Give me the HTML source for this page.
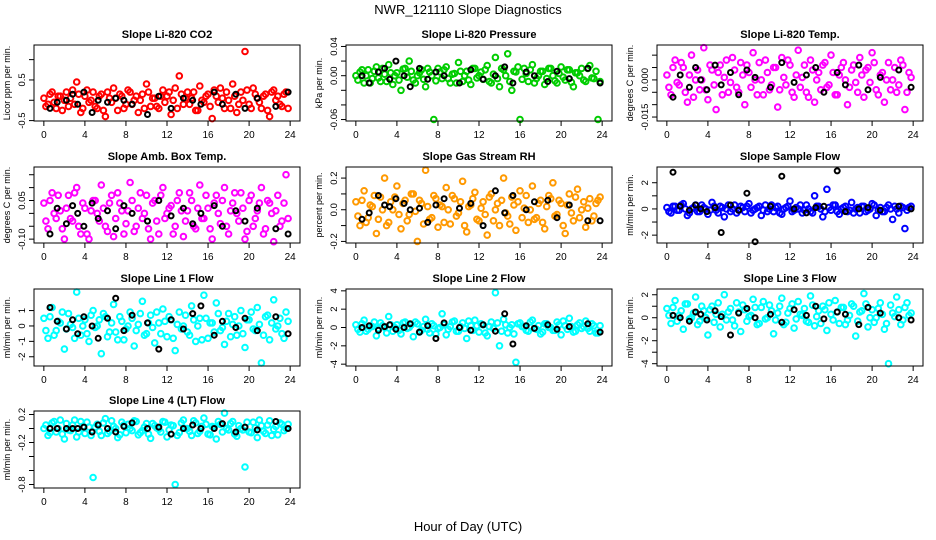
<!DOCTYPE html>
<html><head><meta charset="utf-8">
<style>
html,body{margin:0;padding:0;background:#fff;}
svg{display:block;font-family:"Liberation Sans",sans-serif;}
</style></head>
<body>
<svg id="chart" width="936" height="540" viewBox="0 0 936 540" xmlns="http://www.w3.org/2000/svg">
<text x="468" y="14" text-anchor="middle" font-size="13">NWR_121110  Slope Diagnostics</text>
<text x="468" y="531" text-anchor="middle" font-size="13">Hour of Day (UTC)</text>
</svg>
<script>
const hours = [0,0.4,0.8,1.2,1.6,2,2.4,2.8,3.2,3.6,4,4.4,4.8,5.2,5.6,6,6.4,6.8,7.2,7.6,8,8.4,8.8,9.2,9.6,10,10.4,10.8,11.2,11.6,12,12.4,12.8,13.2,13.6,14,14.4,14.8,15.2,15.6,16,16.4,16.8,17.2,17.6,18,18.4,18.8,19.2,19.6,20,20.4,20.8,21.2,21.6,22,22.4,22.8,23.2,23.6];
const hours2 = [0.2,0.6,1,1.4,1.8,2.2,2.6,3,3.4,3.8,4.2,4.6,5,5.4,5.8,6.2,6.6,7,7.4,7.8,8.2,8.6,9,9.4,9.8,10.2,10.6,11,11.4,11.8,12.2,12.6,13,13.4,13.8,14.2,14.6,15,15.4,15.8,16.2,16.6,17,17.4,17.8,18.2,18.6,19,19.4,19.8,20.2,20.6,21,21.4,21.8,22.2,22.6,23,23.4,23.8];
const blackHours = [0.6,1.3,2.2,2.8,3.3,3.9,4.7,5.3,6.2,7.0,7.8,8.6,10.1,11.2,12.4,13.6,14.5,15.3,16.6,17.4,18.7,19.6,20.8,22.6,23.8];
const xTicks = [0,4,8,12,16,20,24];

const co2Vals = [0.05,-0.1,0.2,-0.2,0.1,0.0,-0.15,0.25,0.45,-0.3,0.1,-0.05,0.2,-0.2,0.15,-0.4,0.05,0.3,-0.25,0.1,-0.1,0.2,0.0,-0.3,0.15,0.4,-0.15,0.05,-0.2,0.25,0.1,-0.35,0.3,0.6,-0.1,0.2,0.05,-0.25,0.35,-0.05,0.15,-0.45,0.1,0.3,-0.2,0.0,0.4,-0.3,0.2,1.2,-0.1,0.3,0.05,-0.2,0.15,-0.4,0.25,0.1,-0.15,0.2];
const co2Vals2 = [-0.15,0.15,-0.05,0.1,-0.25,0.2,0.05,-0.1,0.15,-0.2,0.25,0.0,-0.15,0.1,-0.25,0.2,-0.05,0.05,0.15,-0.2,0.25,-0.1,0.1,0.0,-0.2,0.2,0.05,-0.15,0.1,-0.05,0.2,0.0,-0.2,0.15,0.05,-0.1,0.2,-0.25,0.0,0.1,-0.15,0.25,-0.05,0.05,0.2,-0.2,0.1,-0.1,0.0,0.25,-0.2,0.15,-0.05,0.1,-0.25,0.2,0.0,-0.1,0.15,-0.2];
const co2Black = [-0.2,-0.05,0.0,0.15,-0.1,0.2,-0.3,0.0,-0.05,0.05,0.0,-0.1,-0.35,0.1,-0.2,0.05,0.0,-0.1,0.2,-0.1,0.15,-0.2,0.05,-0.15,0.2];
const presVals = [0.0,0.005,-0.01,0.008,-0.004,0.012,-0.008,0.002,0.015,-0.012,0.004,-0.02,0.01,0.02,-0.006,0.0,0.008,-0.015,0.005,-0.06,0.01,-0.004,0.012,-0.01,0.003,0.018,-0.008,0.006,-0.012,0.01,0.0,-0.005,0.014,-0.01,0.025,-0.015,0.008,0.03,-0.02,0.005,-0.06,0.01,-0.008,0.015,-0.004,0.006,-0.012,0.01,0.0,-0.01,0.012,-0.006,0.008,-0.015,0.004,0.01,-0.008,0.014,-0.004,-0.06];
const presVals2 = [-0.006,0.008,0.0,-0.01,0.006,-0.003,0.01,-0.008,0.004,0.0,-0.006,0.009,-0.002,0.006,-0.01,0.004,-0.005,0.01,0.0,-0.007,0.005,0.008,-0.004,0.002,-0.01,0.006,0.0,-0.006,0.01,-0.003,0.005,0.008,-0.008,0.002,-0.004,0.01,0.0,-0.008,0.006,0.012,-0.005,0.003,0.008,-0.01,0.0,0.006,-0.004,0.01,-0.007,0.003,-0.002,0.008,-0.009,0.004,0.0,-0.006,0.01,-0.003,0.006,-0.008];
const presBlack = [0.0,-0.01,0.005,0.01,-0.005,0.02,0.0,-0.015,0.01,-0.005,0.005,0.0,-0.01,0.008,-0.005,0.0,0.012,-0.01,0.005,0.0,-0.008,0.006,-0.004,0.01,-0.01];
const tempVals = [0.002,-0.006,0.008,-0.002,0.005,-0.009,0.01,0.0,-0.004,0.013,-0.008,0.004,-0.012,0.006,0.001,-0.005,0.009,-0.003,0.007,-0.01,0.003,0.011,-0.006,0.0,0.008,-0.004,0.005,-0.011,0.009,-0.002,0.006,-0.007,0.012,0.001,-0.005,0.008,-0.009,0.003,0.006,-0.003,0.01,-0.006,0.002,0.007,-0.01,0.004,-0.001,0.009,-0.007,0.005,0.011,-0.004,0.002,-0.009,0.007,0.0,-0.005,0.008,-0.012,0.003];
const tempVals2 = [-0.003,0.005,-0.001,0.007,-0.005,0.002,-0.007,0.004,0.0,-0.004,0.006,-0.002,0.003,-0.006,0.008,-0.001,0.004,-0.005,0.002,0.006,-0.003,0.0,0.007,-0.006,0.003,-0.002,0.005,-0.004,0.001,0.008,-0.005,0.002,-0.003,0.006,-0.007,0.004,0.0,-0.004,0.007,-0.002,0.003,-0.006,0.005,0.0,-0.003,0.006,-0.005,0.002,0.004,-0.001,0.007,-0.006,0.003,0.0,-0.004,0.005,-0.002,0.006,-0.005,0.001];
const tempBlack = [-0.007,0.002,-0.003,0.005,0.0,-0.004,0.006,-0.002,0.003,-0.006,0.004,0.001,-0.003,0.007,-0.001,0.002,0.005,-0.005,0.003,-0.002,0.006,-0.004,0.001,0.004,-0.003];
const ambVals = [0.04,-0.06,0.08,-0.02,0.01,-0.1,0.07,-0.03,0.1,-0.08,0.02,-0.1,0.05,0.0,0.11,-0.05,0.04,-0.09,0.08,0.01,-0.04,0.12,-0.07,0.02,-0.02,0.07,-0.1,0.05,-0.08,0.1,0.0,0.03,-0.05,0.08,-0.09,0.01,0.05,-0.06,0.11,-0.02,0.02,-0.1,0.07,-0.04,0.1,-0.08,0.04,0.0,0.08,-0.1,0.05,-0.05,0.01,0.1,-0.06,0.04,-0.11,0.07,-0.03,0.15];
const ambVals2 = [-0.03,0.05,0.0,0.07,-0.06,0.02,-0.02,0.08,-0.05,0.04,-0.08,0.01,0.05,-0.03,0.02,-0.07,0.07,-0.02,0.04,-0.08,0.01,0.05,-0.05,0.08,0.0,-0.06,0.04,-0.03,0.07,-0.02,0.02,-0.08,0.05,0.01,-0.03,0.08,-0.05,0.02,-0.02,0.07,-0.06,0.04,0.0,0.05,-0.05,0.01,0.08,-0.03,0.02,-0.07,0.07,-0.02,0.04,-0.08,0.05,0.0,0.01,-0.05,0.04,-0.02];
const ambBlack = [-0.08,0.02,-0.04,0.03,0.0,-0.05,0.04,-0.02,0.01,-0.06,0.03,0.0,-0.03,0.05,-0.01,0.02,-0.04,0.0,0.03,-0.05,0.01,-0.03,0.02,-0.06,-0.08];
const rhVals = [0.05,-0.1,0.12,-0.05,0.02,-0.15,0.08,0.2,-0.08,0.0,0.15,-0.12,0.06,-0.03,0.1,-0.2,0.04,0.25,-0.06,0.09,-0.11,0.02,0.14,-0.09,0.07,-0.02,0.18,-0.14,0.03,0.11,-0.07,0.05,-0.16,0.1,0.0,-0.1,0.2,-0.04,0.08,-0.13,0.12,0.01,-0.08,0.15,-0.05,0.06,-0.12,0.09,0.17,-0.03,0.04,-0.15,0.1,-0.07,0.13,0.0,-0.11,0.07,-0.04,0.06];
const rhVals2 = [-0.04,0.06,-0.08,0.03,0.09,-0.06,0.0,-0.1,0.05,0.08,-0.03,0.04,-0.07,0.1,-0.01,0.06,-0.09,0.02,-0.05,0.07,0.03,-0.08,0.0,0.09,-0.04,0.05,-0.1,0.02,0.07,-0.06,0.01,-0.03,0.08,-0.07,0.04,0.06,-0.02,-0.09,0.03,0.05,-0.05,0.09,0.0,-0.06,0.04,-0.08,0.02,0.07,-0.04,0.06,-0.1,0.03,-0.02,0.08,-0.05,0.05,0.01,-0.07,0.04,0.08];
const rhBlack = [-0.06,-0.02,0.09,0.03,0.02,0.07,0.04,0.0,0.01,-0.08,0.03,0.07,0.01,0.04,-0.1,0.12,-0.02,0.09,0.0,0.05,0.06,-0.05,0.03,-0.07,-0.07];
const sampleVals = [0.1,-0.3,0.2,-0.1,0.4,-0.5,0.0,0.3,-0.2,0.1,-0.4,0.5,-0.1,0.2,-0.6,0.3,0.0,-0.3,0.2,-0.2,0.4,-0.1,0.1,-0.5,0.3,0.0,-0.2,0.2,-0.4,0.1,0.6,-0.1,0.0,-0.3,0.3,-0.2,1.0,0.2,-0.6,1.5,-0.1,0.3,-0.4,0.1,-0.2,0.5,0.0,-0.3,0.2,-0.1,0.4,-0.5,0.1,-0.2,0.3,-0.8,0.0,0.2,-1.5,0.1];
const sampleVals2 = [-0.2,0.2,-0.1,0.3,0.0,-0.3,0.1,-0.2,0.3,0.0,-0.1,0.2,-0.3,0.1,0.0,-0.2,0.3,-0.1,0.1,0.2,-0.3,0.0,0.2,-0.1,-0.2,0.3,0.1,-0.3,0.0,0.2,-0.2,0.1,0.3,-0.1,0.0,-0.3,0.2,0.0,-0.2,0.1,0.3,-0.2,0.0,0.2,-0.1,-0.3,0.1,0.2,-0.2,0.0,0.3,-0.1,-0.2,0.1,0.0,0.2,-0.3,0.1,-0.1,0.2];
const sampleBlack = [2.8,0.2,-0.1,0.3,0.0,-0.2,0.1,-1.8,0.3,-0.1,1.2,-2.5,0.2,2.5,0.0,-0.3,0.1,0.2,2.9,-0.2,0.0,0.1,-0.1,0.2,0.0];
const line1Vals = [0.5,-0.8,1.2,-0.3,0.2,-1.5,0.8,-0.1,2.2,-0.6,0.4,-1.0,1.0,0.0,-1.8,0.6,-0.4,1.4,-0.9,0.3,-0.2,0.9,-1.3,0.1,1.6,-0.5,0.7,-1.1,0.2,1.1,-0.7,0.4,-1.6,0.9,0.0,-0.4,1.3,-1.0,0.5,2.0,-0.8,0.2,1.5,-0.3,-1.2,0.8,0.1,-0.6,1.0,-1.4,0.4,-0.2,1.2,-2.4,0.6,-0.9,1.7,0.0,-0.5,0.9];
const line1Vals2 = [-0.3,0.6,-0.6,0.3,0.9,-0.2,0.1,-0.8,0.5,0.0,-0.5,0.7,-0.1,0.4,0.8,-0.7,0.2,-0.4,0.6,-0.9,0.0,0.5,-0.3,0.8,-0.6,0.2,-0.1,0.9,-0.5,0.3,0.6,-0.8,0.1,-0.2,0.7,-0.6,0.4,0.0,-0.9,0.5,0.2,-0.4,0.8,-0.1,0.3,-0.7,0.6,0.0,-0.5,0.4,0.9,-0.3,0.1,-0.6,0.7,0.2,-0.2,0.5,-0.8,0.3];
const line1Black = [1.2,0.3,-0.2,0.4,-0.5,0.6,0.0,-0.8,0.5,1.8,-0.3,0.7,0.2,-1.5,0.4,-0.2,0.8,1.3,-0.6,0.3,-0.1,0.5,-0.3,0.6,-0.5];
const line2Vals = [0.3,-0.5,0.8,-0.2,0.1,-0.9,0.5,0.0,1.2,-0.4,0.3,-0.7,0.6,0.0,-1.0,0.4,-0.3,0.9,-0.6,0.2,-0.1,1.5,-0.8,0.1,0.7,-0.4,0.5,-1.2,0.2,0.8,-0.5,0.3,-0.9,0.6,3.8,-2.0,0.9,-0.6,0.3,-3.8,0.5,0.1,-0.4,0.8,-0.2,-0.7,0.4,0.0,-0.3,0.6,-0.8,0.2,1.0,-0.5,0.3,-0.1,0.7,-0.4,0.2,-0.6];
const line2Vals2 = [-0.2,0.4,-0.4,0.1,0.6,-0.1,0.2,-0.6,0.3,0.0,-0.3,0.5,-0.1,0.3,0.6,-0.5,0.1,-0.2,0.4,-0.7,0.0,0.3,-0.2,0.6,-0.4,0.1,-0.1,0.7,-0.3,0.2,0.4,-0.6,0.1,-0.1,0.5,-0.4,0.3,0.0,-0.7,0.4,0.1,-0.3,0.6,-0.1,0.2,-0.5,0.4,0.0,-0.3,0.3,0.7,-0.2,0.1,-0.4,0.5,0.1,-0.1,0.4,-0.6,0.2];
const line2Black = [0.0,0.2,-0.3,0.1,0.3,-0.2,0.0,0.4,-0.5,0.2,-1.2,0.5,0.0,-0.3,0.3,-0.4,1.5,-1.8,0.2,-0.1,0.3,-0.2,0.1,0.4,-0.5];
const line3Vals = [0.8,-0.5,1.5,0.2,-1.0,1.2,0.0,1.8,-0.3,0.6,-1.5,1.0,0.3,-0.8,2.0,0.5,-0.2,1.3,-1.2,0.7,0.1,1.6,-0.6,0.9,-0.1,1.1,-1.4,0.4,1.7,-0.4,0.8,-0.9,1.4,0.2,-0.3,1.9,-0.7,0.6,1.0,-1.1,0.3,1.5,-0.5,0.9,-0.2,1.2,-1.6,0.5,2.1,-0.8,0.7,0.0,1.3,-1.0,-4.0,0.4,1.8,-0.6,0.9,0.2];
const line3Vals2 = [0.2,0.9,-0.3,0.6,1.2,-0.1,0.4,-0.6,1.0,0.0,0.7,-0.4,1.3,0.3,-0.2,0.8,-0.7,0.5,1.1,-0.3,0.2,0.9,-0.5,1.4,0.0,0.6,-0.2,1.0,-0.6,0.4,1.2,-0.1,0.3,0.8,-0.4,1.1,0.1,-0.5,0.7,1.3,-0.2,0.5,0.9,-0.6,0.2,1.0,-0.3,0.6,1.2,0.0,-0.4,0.8,0.3,-0.5,1.1,0.1,0.7,-0.2,1.3,0.4];
const line3Black = [0.2,0.0,-0.3,0.5,0.3,-0.2,0.6,0.1,-1.5,0.4,0.8,0.0,0.3,-0.4,0.7,0.2,1.0,-0.1,0.5,0.3,-0.6,0.9,0.4,0.0,-0.2];
const line4Vals = [0.0,-0.1,0.08,-0.05,0.12,-0.15,-0.02,0.05,-0.12,0.1,-0.07,0.02,-0.7,0.06,-0.1,0.14,-0.04,0.03,-0.13,0.09,-0.06,0.0,0.11,-0.09,-0.03,0.07,-0.14,0.04,-0.01,0.1,-0.12,0.05,-0.8,-0.06,0.12,0.0,-0.1,0.08,-0.04,0.15,-0.08,0.03,-0.15,0.06,0.22,-0.02,0.1,-0.11,0.0,-0.55,-0.05,0.09,-0.13,0.04,-0.07,0.11,-0.01,-0.09,0.06,0.0];
const line4Vals2 = [0.05,-0.06,0.1,0.0,-0.08,0.07,-0.03,0.12,-0.05,0.03,0.09,-0.1,0.02,-0.04,0.08,-0.07,0.11,0.0,-0.09,0.05,0.06,-0.03,0.1,-0.06,0.02,-0.08,0.07,0.01,-0.05,0.09,-0.02,0.04,-0.1,0.08,0.0,-0.04,0.11,-0.07,0.03,0.06,-0.09,0.02,0.1,-0.05,0.0,0.07,-0.08,0.04,-0.02,0.09,-0.06,0.01,0.12,-0.04,0.05,-0.1,0.03,0.08,-0.03,0.06];
const line4Black = [0.0,0.0,0.0,0.0,0.0,0.02,-0.05,0.05,0.0,-0.05,0.03,0.08,0.0,0.02,-0.08,0.0,0.05,0.0,0.0,0.07,-0.05,0.02,-0.02,0.1,0.0];

const co2Ticks=[-0.5,0,0.5,1], co2Labels=["-0.5","","0.5",""];
const presTicks=[-0.06,-0.04,-0.02,0,0.02,0.04], presLabels=["-0.06","","","0.00","","0.04"];
const tempTicks=[-0.015,-0.01,-0.005,0,0.005,0.01], tempLabels=["-0.015","","","0.000","",""];
const ambTicks=[-0.1,-0.05,0,0.05,0.1,0.15], ambLabels=["-0.10","","","0.05","",""];
const rhTicks=[-0.2,-0.1,0,0.1,0.2], rhLabels=["-0.2","","0.0","","0.2"];
const sampleTicks=[-2,-1,0,1,2], sampleLabels=["-2","","0","","2"];
const line1Ticks=[-2,-1,0,1], line1Labels=["-2","-1","0","1"];
const line2Ticks=[-4,-2,0,2,4], line2Labels=["-4","-2","0","2","4"];
const line3Ticks=[-4,-3,-2,-1,0,1,2], line3Labels=["-4","","-2","","0","","2"];
const line4Ticks=[-0.8,-0.6,-0.4,-0.2,0,0.2], line4Labels=["-0.8","","","-0.2","","0.2"];

const cols=[[34,300],[346,612],[657,923]];
const rows=[[45,121],[167,243],[289,366],[411,488]];
const panels=[
 {name:'co2',title:'Slope Li-820 CO2',ylab:'Licor ppm per min.',c:0,r:0,lim:[-0.51,1.36],vals:co2Vals,vals2:co2Vals2,blk:co2Black,ticks:co2Ticks,labels:co2Labels,color:'#ff0000'},
 {name:'pressure',title:'Slope Li-820 Pressure',ylab:'kPa per min.',c:1,r:0,lim:[-0.062,0.042],vals:presVals,vals2:presVals2,blk:presBlack,ticks:presTicks,labels:presLabels,color:'#00cd00'},
 {name:'temp',title:'Slope Li-820 Temp.',ylab:'degrees C per min.',c:2,r:0,lim:[-0.0166,0.0141],vals:tempVals,vals2:tempVals2,blk:tempBlack,ticks:tempTicks,labels:tempLabels,color:'#ff00ff'},
 {name:'amb-box-temp',title:'Slope Amb. Box Temp.',ylab:'degrees C per min.',c:0,r:1,lim:[-0.115,0.18],vals:ambVals,vals2:ambVals2,blk:ambBlack,ticks:ambTicks,labels:ambLabels,color:'#ff00ff'},
 {name:'gas-stream-rh',title:'Slope Gas Stream RH',ylab:'percent per min.',c:1,r:1,lim:[-0.21,0.27],vals:rhVals,vals2:rhVals2,blk:rhBlack,ticks:rhTicks,labels:rhLabels,color:'#ff9900'},
 {name:'sample-flow',title:'Slope Sample Flow',ylab:'ml/min per min.',c:2,r:1,lim:[-2.6,3.2],vals:sampleVals,vals2:sampleVals2,blk:sampleBlack,ticks:sampleTicks,labels:sampleLabels,color:'#0000ff'},
 {name:'line1-flow',title:'Slope Line 1 Flow',ylab:'ml/min per min.',c:0,r:2,lim:[-2.6,2.4],vals:line1Vals,vals2:line1Vals2,blk:line1Black,ticks:line1Ticks,labels:line1Labels,color:'#00ffff'},
 {name:'line2-flow',title:'Slope Line 2 Flow',ylab:'ml/min per min.',c:1,r:2,lim:[-4.2,4.2],vals:line2Vals,vals2:line2Vals2,blk:line2Black,ticks:line2Ticks,labels:line2Labels,color:'#00ffff'},
 {name:'line3-flow',title:'Slope Line 3 Flow',ylab:'ml/min per min.',c:2,r:2,lim:[-4.2,2.5],vals:line3Vals,vals2:line3Vals2,blk:line3Black,ticks:line3Ticks,labels:line3Labels,color:'#00ffff'},
 {name:'line4-flow',title:'Slope Line 4 (LT) Flow',ylab:'ml/min per min.',c:0,r:3,lim:[-0.85,0.25],vals:line4Vals,vals2:line4Vals2,blk:line4Black,ticks:line4Ticks,labels:line4Labels,color:'#00ffff'}
];
const NS='http://www.w3.org/2000/svg';
const svg=document.getElementById('chart');
function mk(tag,attrs,parent){const e=document.createElementNS(NS,tag);for(const k in attrs)e.setAttribute(k,attrs[k]);parent.appendChild(e);return e;}
panels.forEach(p=>{
  const [x0,x1]=cols[p.c],[y0,y1]=rows[p.r];
  const xs=v=>x0+(v+0.96)/25.92*(x1-x0);
  const ys=v=>y1-(v-p.lim[0])/(p.lim[1]-p.lim[0])*(y1-y0);
  const g=mk('g',{},svg);
  
  
  const t=mk('text',{x:(x0+x1)/2,y:y0-7,'text-anchor':'middle','font-size':'11','font-weight':'bold'},g);
  t.textContent=p.title;
  
  
  const pts=mk('g',{fill:'none',stroke:p.color,'stroke-width':'2'},g);
  
  
  p.vals.forEach((v,i)=>{
    const c=mk('circle',{cx:xs(hours[i]).toFixed(1),cy:ys(v).toFixed(1),r:2.8},pts);
    
    
  });
  p.vals2.forEach((v,i)=>{
    const c=mk('circle',{cx:xs(hours2[i]).toFixed(1),cy:ys(v).toFixed(1),r:2.8},pts);
    
    
  });
  const bp=mk('g',{fill:'none',stroke:'#000','stroke-width':'2'},g);
  
  
  p.blk.forEach((v,i)=>{
    const c=mk('circle',{cx:xs(blackHours[i]).toFixed(1),cy:ys(v).toFixed(1),r:2.5},bp);
    
    
  });
  const box=mk('rect',{x:x0,y:y0,width:x1-x0,height:y1-y0,fill:'none',stroke:'#000','stroke-width':'1'},g);
  
  
  const xa=mk('g',{stroke:'#000','stroke-width':'1'},g);
  
  
  xTicks.forEach(v=>{
    mk('line',{x1:xs(v),x2:xs(v),y1:y1,y2:y1+5},xa);
    const l=mk('text',{x:xs(v),y:y1+17,'text-anchor':'middle','font-size':'10',stroke:'none',fill:'#000'},xa);
    l.textContent=v;
  });
  const ya=mk('g',{stroke:'#000','stroke-width':'1'},g);
  
  
  p.ticks.forEach((v,i)=>{
    mk('line',{x1:x0-5,x2:x0,y1:ys(v),y2:ys(v)},ya);
    if(p.labels[i]){
      const l=mk('text',{x:0,y:0,'text-anchor':'middle','font-size':'9.5',stroke:'none',fill:'#000',transform:`translate(${x0-9},${ys(v)}) rotate(-90)`},ya);
      l.textContent=p.labels[i];
    }
  });
  const yl=mk('text',{x:0,y:0,'text-anchor':'middle','font-size':'9',transform:`translate(${x0-24},${(y0+y1)/2}) rotate(-90)`},g);
  yl.textContent=p.ylab;
  
  
});
</script>
</body></html>
